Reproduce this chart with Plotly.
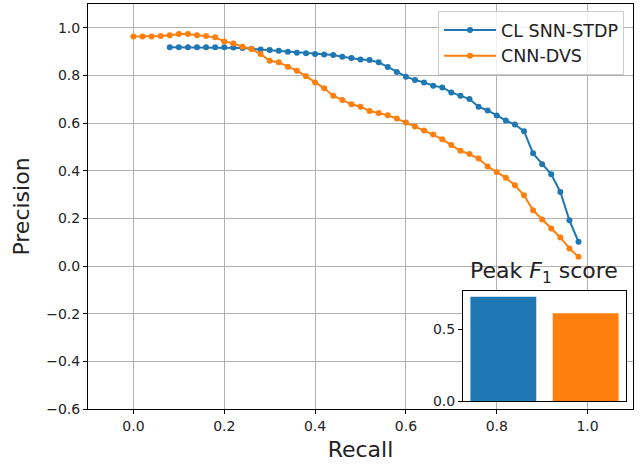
import plotly.graph_objects as go

# ---- data ----
snn_recall = [0.08, 0.10, 0.12, 0.14, 0.16, 0.18, 0.20, 0.22, 0.24, 0.26,
              0.28, 0.30, 0.32, 0.34, 0.36, 0.38, 0.40, 0.42, 0.44, 0.46,
              0.48, 0.50, 0.52, 0.54, 0.56, 0.58, 0.60, 0.62, 0.64, 0.66,
              0.68, 0.70, 0.72, 0.74, 0.76, 0.78, 0.80, 0.82, 0.84, 0.86,
              0.88, 0.90, 0.92, 0.94, 0.96, 0.98]
snn_precision = [0.918, 0.918, 0.918, 0.918, 0.918, 0.918, 0.918, 0.917, 0.915, 0.912,
                 0.909, 0.907, 0.904, 0.900, 0.895, 0.893, 0.890, 0.888, 0.886, 0.879,
                 0.873, 0.867, 0.865, 0.855, 0.836, 0.815, 0.795, 0.781, 0.771, 0.757,
                 0.750, 0.729, 0.715, 0.701, 0.669, 0.653, 0.632, 0.611, 0.594, 0.566,
                 0.473, 0.427, 0.385, 0.311, 0.192, 0.102]

cnn_recall = [0.00, 0.02, 0.04, 0.06, 0.08, 0.10, 0.12, 0.14, 0.16, 0.18,
              0.20, 0.22, 0.24, 0.26, 0.28, 0.30, 0.32, 0.34, 0.36, 0.38,
              0.40, 0.42, 0.44, 0.46, 0.48, 0.50, 0.52, 0.54, 0.56, 0.58,
              0.60, 0.62, 0.64, 0.66, 0.68, 0.70, 0.72, 0.74, 0.76, 0.78,
              0.80, 0.82, 0.84, 0.86, 0.88, 0.90, 0.92, 0.94, 0.96, 0.98]
cnn_precision = [0.964, 0.964, 0.964, 0.966, 0.969, 0.974, 0.974, 0.969, 0.966, 0.960,
                 0.943, 0.934, 0.921, 0.911, 0.890, 0.862, 0.855, 0.837, 0.820, 0.797,
                 0.771, 0.746, 0.715, 0.697, 0.679, 0.669, 0.651, 0.642, 0.633, 0.619,
                 0.603, 0.586, 0.569, 0.552, 0.532, 0.508, 0.484, 0.470, 0.451, 0.418,
                 0.395, 0.371, 0.339, 0.297, 0.234, 0.195, 0.158, 0.120, 0.074, 0.039]

series_names = ["CL SNN-STDP", "CNN-DVS"]
peak_f1 = [0.724, 0.609]
bar_positions = [0, 1]

main_xticks = [0.0, 0.2, 0.4, 0.6, 0.8, 1.0]
main_yticks = [-0.6, -0.4, -0.2, 0.0, 0.2, 0.4, 0.6, 0.8, 1.0]
inset_yticks = [0.0, 0.5]

colors = ["#1f77b4", "#ff7f0e"]
FONT = "DejaVu Sans"

fig = go.Figure()
fig.add_trace(go.Scatter(x=snn_recall, y=snn_precision, mode="lines+markers",
                         name=series_names[0],
                         line=dict(color=colors[0], width=2),
                         marker=dict(color=colors[0], size=6),
                         xaxis="x", yaxis="y"))
fig.add_trace(go.Scatter(x=cnn_recall, y=cnn_precision, mode="lines+markers",
                         name=series_names[1],
                         line=dict(color=colors[1], width=2),
                         marker=dict(color=colors[1], size=6),
                         xaxis="x", yaxis="y"))
fig.add_trace(go.Bar(x=bar_positions, y=peak_f1, width=0.8,
                     marker=dict(color=colors, line=dict(width=0)),
                     showlegend=False, xaxis="x2", yaxis="y2"))

W, H = 642, 464
ml, mr, mt, mb = 88, 9, 4, 55
pw, ph = W - ml - mr, H - mt - mb

def px_x(px):
    return (px - ml) / pw

def px_y(py):
    return (H - mb - py) / ph

axis_common = dict(showline=True, linecolor="black", linewidth=1, mirror=True,
                   ticks="outside", ticklen=4, tickcolor="black", tickwidth=1,
                   tickfont=dict(family=FONT, size=14, color="#222"),
                   zeroline=False)

fig.update_layout(
    width=W, height=H,
    margin=dict(l=ml, r=mr, t=mt, b=mb),
    paper_bgcolor="white", plot_bgcolor="white",
    font=dict(family=FONT, color="#222"),
    xaxis=dict(range=[-0.1, 1.1], tickvals=main_xticks, tickformat=".1f",
               showgrid=True, gridcolor="#b0b0b0", gridwidth=1,
               title=dict(text="Recall", font=dict(family=FONT, size=22), standoff=8),
               domain=[0, 1], **axis_common),
    yaxis=dict(range=[-0.6, 1.1], tickvals=main_yticks, tickformat=".1f",
               showgrid=True, gridcolor="#b0b0b0", gridwidth=1,
               title=dict(text="Precision", font=dict(family=FONT, size=22), standoff=10),
               domain=[0, 1], **axis_common),
    xaxis2=dict(range=[-0.49, 1.49], domain=[px_x(463), px_x(626)], anchor="y2",
                showticklabels=False, showgrid=False, zeroline=False,
                showline=True, linecolor="black", linewidth=1, mirror=True, ticks=""),
    yaxis2=dict(range=[0, 0.764], domain=[px_y(401), px_y(291)], anchor="x2",
                tickvals=inset_yticks, tickformat=".1f", showgrid=False,
                **axis_common),
    legend=dict(x=px_x(624), y=px_y(11), xanchor="right", yanchor="top",
                bgcolor="rgba(255,255,255,0.8)", bordercolor="#cccccc", borderwidth=1,
                font=dict(family=FONT, size=17.5, color="#222"), itemwidth=52,
                tracegroupgap=0),
    showlegend=True,
    annotations=[dict(text="Peak <i>F</i><sub>1</sub> score", x=px_x(544), y=px_y(289),
                      xref="paper", yref="paper", xanchor="center", yanchor="bottom",
                      showarrow=False, font=dict(family=FONT, size=22, color="#222"))],
)

fig.write_html("out.html")
